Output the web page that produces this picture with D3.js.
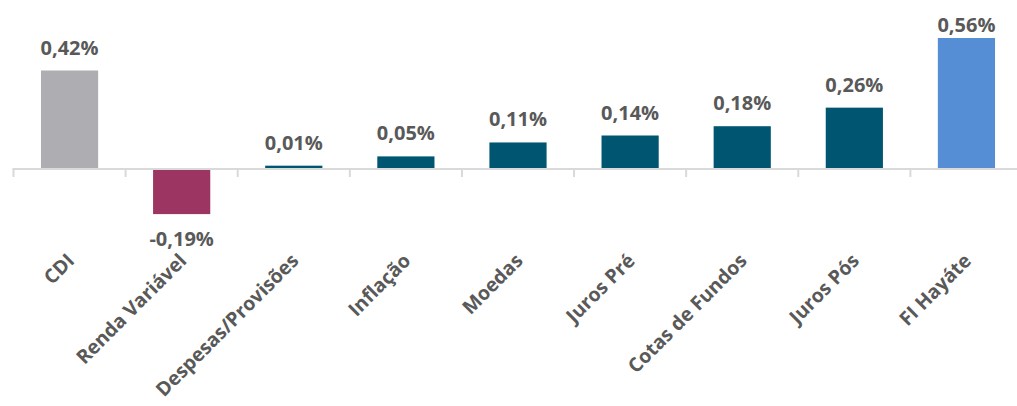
<!DOCTYPE html>
<html><head><meta charset="utf-8">
<script src="https://cdn.jsdelivr.net/npm/d3@7"></script>
<style>
html,body{margin:0;padding:0;background:#fff;}
svg{display:block;}
</style></head>
<body>
<svg id="chart" width="1017" height="406"></svg>
<script>
const categories = ["CDI","Renda Variável","Despesas/Provisões","Inflação","Moedas","Juros Pré","Cotas de Fundos","Juros Pós","FI Hayáte"];
const values = [0.42,-0.19,0.01,0.05,0.11,0.14,0.18,0.26,0.56];
const barColors = ["#AEAEB2","#9D3563","#005571","#005571","#005571","#005571","#005571","#005571","#558ED5"];

const W = 1017, H = 406;
const svg = d3.select("#chart");
const x = d3.scaleBand().domain(categories).range([13.5, 1022.5]).paddingInner(0.49).paddingOuter(0.245);
const y = d3.scaleLinear().domain([0, 0.56]).range([168, 38]);

const fmt = v => (v < 0 ? "-" : "") + d3.format(".2f")(Math.abs(v)).replace(".", ",") + "%";

// axis line
svg.append("line").attr("x1", 12.5).attr("x2", W).attr("y1", y(0)+1).attr("y2", y(0)+1)
  .attr("stroke", "#D9D9D9").attr("stroke-width", 2);
// ticks at band boundaries
const step = x.step();
const bounds = categories.map(c => x(c) - (step - x.bandwidth())/2);
svg.selectAll("line.tick").data(bounds).enter().append("line")
  .attr("x1", d => d).attr("x2", d => d).attr("y1", y(0)+1).attr("y2", y(0)+9)
  .attr("stroke", "#D9D9D9").attr("stroke-width", 2);

// bars
svg.selectAll("rect.bar").data(values).enter().append("rect")
  .attr("x", (d,i) => x(categories[i]))
  .attr("width", x.bandwidth())
  .attr("y", d => d >= 0 ? y(d) : y(0)+2)
  .attr("height", d => d >= 0 ? y(0) - y(d) : y(d) - y(0) - 2 + 2)
  .attr("fill", (d,i) => barColors[i]);

// value labels
svg.selectAll("text.val").data(values).enter().append("text")
  .attr("x", (d,i) => x(categories[i]) + x.bandwidth()/2)
  .attr("y", d => d >= 0 ? Math.max(y(d) - 16, 32) : y(d) + 34)
  .attr("text-anchor", "middle")
  .attr("font-family", "'Open Sans', sans-serif")
  .attr("font-weight", "bold")
  .attr("font-size", "20px")
  .attr("fill", "#595959")
  .text(d => fmt(d));

// category labels
svg.selectAll("text.cat").data(categories).enter().append("text")
  .attr("transform", d => `translate(${x(d) + x.bandwidth()/2 + 6},${262}) rotate(-45)`)
  .attr("text-anchor", "end")
  .attr("font-family", "'Open Sans', sans-serif")
  .attr("font-weight", "bold")
  .attr("font-size", "19.5px")
  .attr("fill", "#595959")
  .text(d => d);
</script>
</body></html>
